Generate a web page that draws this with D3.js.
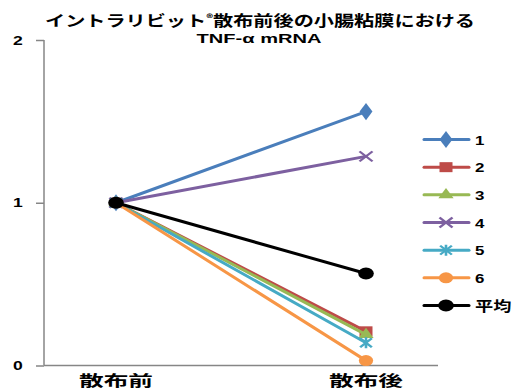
<!DOCTYPE html>
<html><head><meta charset="utf-8">
<script src="https://cdn.jsdelivr.net/npm/d3@7"></script>
<style>body{margin:0;background:#fff}svg{display:block}</style>
</head><body>
<svg id="c" width="518" height="391"></svg>
<script>
const categories = ["散布前", "散布後"];
const seriesNames = ["1", "2", "3", "4", "5", "6", "平均"];
const s1 = [1, 1.56];
const s2 = [1, 0.21];
const s3 = [1, 0.19];
const s4 = [1, 1.285];
const s5 = [1, 0.14];
const s6 = [1, 0.03];
const sAvg = [1, 0.565];
const yTicks = [0, 1, 2];
const titleLine1 = "イントラリビット";
const titleReg = "®";
const titleLine1b = "散布前後の小腸粘膜における";
const titleLine2 = "TNF-α mRNA";

const seriesValues = [s1, s2, s3, s4, s5, s6, sAvg];
const colors = ["#4A7EBB", "#BE4B48", "#98B954", "#7D60A0", "#46AAC5", "#F79646", "#000000"];
const markers = ["diamond", "square", "triangle", "x", "asterisk", "circle", "bigcircle"];

const svg = d3.select("#c");
const x = d3.scalePoint().domain(categories).range([44, 438]).padding(0.288);
const y = d3.scaleLinear().domain([0, 2]).range([365.5, 40]);

// axes
const gy = svg.append("g").attr("transform", "translate(44,0)")
  .call(d3.axisLeft(y).tickValues(yTicks).tickSize(8).tickFormat(""));
gy.selectAll("path,line").attr("stroke", "#868686").attr("stroke-width", 1.5);
gy.select(".domain").attr("d", `M0,${y(2)}V${y(0)}`);
yTicks.forEach(t => {
  svg.append("text").attr("transform", `translate(18,${y(t) + 4.5}) scale(1.35,1)`)
    .attr("text-anchor", "middle").attr("font-family", "Liberation Sans, Arial").attr("font-weight", "bold")
    .attr("font-size", 13).attr("fill", "#000").text(d3.format("d")(t));
});
const gx = svg.append("g").attr("transform", `translate(0,${y(0)})`)
  .call(d3.axisBottom(x).tickSize(0).tickFormat(""));
gx.select(".domain").attr("stroke", "#868686").attr("stroke-width", 1.5).attr("d", "M44,0H438");
categories.forEach(c => {
  svg.append("text").attr("x", x(c)).attr("y", 386).attr("text-anchor", "middle")
    .attr("font-family", "Noto Sans CJK JP").attr("font-weight", "bold").attr("font-size", 15)
    .attr("textLength", 74).attr("lengthAdjust", "spacingAndGlyphs").text(c);
});

function marker(g, type, color, cx, cy) {
  const m = g.append("g").attr("transform", `translate(${cx},${cy}) scale(1.3,1)`);
  if (type === "diamond") m.append("path").attr("d", d3.symbol(d3.symbolDiamond, 85)()).attr("fill", color);
  else if (type === "square") m.append("rect").attr("x", -5).attr("y", -5).attr("width", 10).attr("height", 10).attr("fill", color);
  else if (type === "triangle") m.append("path").attr("d", d3.symbol(d3.symbolTriangle, 60)()).attr("fill", color);
  else if (type === "x") m.append("path").attr("d", "M-5,-5L5,5M-5,5L5,-5").attr("stroke", color).attr("stroke-width", 2).attr("fill", "none");
  else if (type === "asterisk") m.append("path").attr("d", "M-4.5,-4.5L4.5,4.5M-4.5,4.5L4.5,-4.5M0,-5.5V5.5").attr("stroke", color).attr("stroke-width", 2).attr("fill", "none");
  else if (type === "circle") m.append("circle").attr("r", 5.5).attr("fill", color);
  else if (type === "bigcircle") m.append("circle").attr("r", 6).attr("fill", color);
}

const line = d3.line().x((d, i) => x(categories[i])).y(d => y(d));
const plot = svg.append("g");
seriesValues.forEach((vals, si) => {
  const g = plot.append("g");
  g.append("path").attr("d", line(vals)).attr("fill", "none").attr("stroke", colors[si])
    .attr("stroke-width", 3).attr("stroke-linecap", "round");
  vals.forEach((v, i) => marker(g, markers[si], colors[si], x(categories[i]), y(v)));
});

// legend
const legY = d3.scalePoint().domain(seriesNames).range([139.5, 305.5]);
seriesNames.forEach((n, si) => {
  const ly = legY(n);
  svg.append("line").attr("x1", 424).attr("x2", 469).attr("y1", ly).attr("y2", ly)
    .attr("stroke", colors[si]).attr("stroke-width", 3).attr("stroke-linecap", "round");
  marker(svg, markers[si], colors[si], 446, ly);
  svg.append("text").attr("transform", `translate(475,${ly + 5}) scale(1.3,1)`)
    .attr("font-family", n === "平均" ? "Noto Sans CJK JP" : "Liberation Sans, Arial")
    .attr("font-weight", "bold").attr("font-size", n === "平均" ? 14 : 13).text(n);
});

// title
const t1 = svg.append("text").attr("x", 45).attr("y", 26)
  .attr("font-family", "Noto Sans CJK JP").attr("font-weight", "bold").attr("font-size", 15)
  .attr("textLength", 430).attr("lengthAdjust", "spacingAndGlyphs");
t1.append("tspan").text(titleLine1);
t1.append("tspan").attr("font-size", 10).attr("dy", -4).text(titleReg);
t1.append("tspan").attr("dy", 4).text(titleLine1b);
svg.append("text").attr("x", 259).attr("y", 43).attr("text-anchor", "middle")
  .attr("font-family", "Liberation Sans, Arial").attr("font-weight", "bold").attr("font-size", 12)
  .attr("textLength", 125).attr("lengthAdjust", "spacingAndGlyphs").text(titleLine2);
</script>
</body></html>
